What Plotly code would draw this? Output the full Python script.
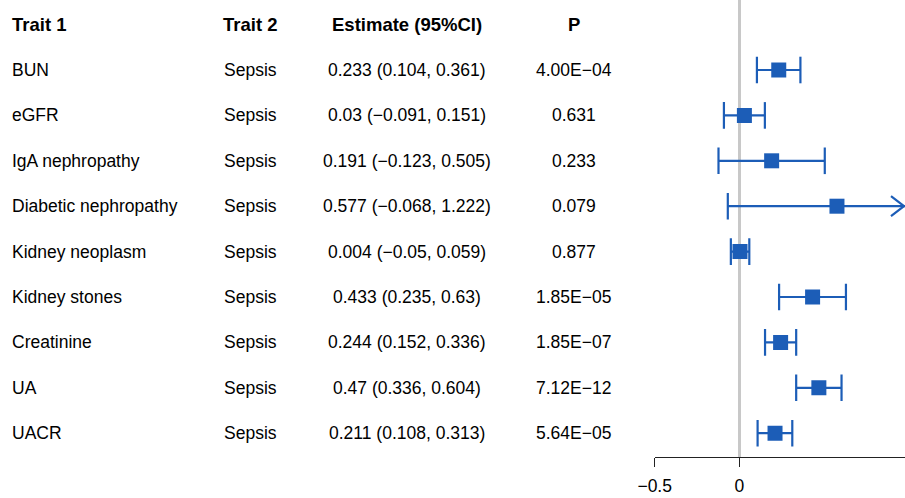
import plotly.graph_objects as go

# Forest plot data: kidney traits vs. sepsis
trait1 = ["BUN", "eGFR", "IgA nephropathy", "Diabetic nephropathy", "Kidney neoplasm",
          "Kidney stones", "Creatinine", "UA", "UACR"]
trait2 = ["Sepsis"] * 9
estimate = [0.233, 0.03, 0.191, 0.577, 0.004, 0.433, 0.244, 0.47, 0.211]
ci_low = [0.104, -0.091, -0.123, -0.068, -0.05, 0.235, 0.152, 0.336, 0.108]
ci_high = [0.361, 0.151, 0.505, 1.222, 0.059, 0.63, 0.336, 0.604, 0.313]
p_values = ["4.00E\u221204", "0.631", "0.233", "0.079", "0.877", "1.85E\u221205",
            "1.85E\u221207", "7.12E\u221212", "5.64E\u221205"]
headers = ["Trait 1", "Trait 2", "Estimate (95%CI)", "P"]
x_ticks = [-0.5, 0]

W, H = 905, 498
X_MIN, X_MAX = -0.5, 0.979
BLUE = "#1c5db7"
FONT = "Liberation Sans, Arial, sans-serif"
FS = 17.5
FS_HEAD = 18.5

rows = list(range(1, len(trait1) + 1))


def fmt(v):
    return f"{v:g}".replace("-", "\u2212")


est_text = [f"{fmt(e)} ({fmt(l)}, {fmt(h)})" for e, l, h in zip(estimate, ci_low, ci_high)]

fig = go.Figure()

# confidence interval whiskers
wx, wy = [], []
for r, l, h in zip(rows, ci_low, ci_high):
    wx += [l, h, None]
    wy += [r, r, None]
fig.add_trace(go.Scatter(x=wx, y=wy, mode="lines", line=dict(color=BLUE, width=2.2),
                         hoverinfo="skip", showlegend=False))

# end caps
fig.add_trace(go.Scatter(x=ci_low + ci_high, y=rows + rows, mode="markers",
                         marker=dict(symbol="line-ns", size=19,
                                     line=dict(color=BLUE, width=2.2)),
                         cliponaxis=True, hoverinfo="skip", showlegend=False))

# point estimates
fig.add_trace(go.Scatter(x=estimate, y=rows, mode="markers",
                         marker=dict(symbol="square", size=15, color=BLUE,
                                     line=dict(width=0)),
                         showlegend=False))

# arrows for intervals that run past the axis
for r, h in zip(rows, ci_high):
    if h > X_MAX:
        fig.add_shape(type="path", xref="x", yref="y", xsizemode="pixel", ysizemode="pixel",
                      xanchor=X_MAX, yanchor=r, path="M-14,-10 L-1,0 L-14,10",
                      line=dict(color=BLUE, width=2.2))

# table columns
col_x = [10, 250, 406.5, 573.5]
col_anchor = ["left", "center", "center", "center"]
columns = [trait1, trait2, est_text, p_values]
for cx, anc, head in zip(col_x, col_anchor, headers):
    fig.add_annotation(x=cx / W, y=0, xref="paper", yref="y", text=f"<b>{head}</b>",
                       showarrow=False, xanchor=anc, yanchor="middle",
                       font=dict(family=FONT, size=FS_HEAD, color="#000"))
for cx, anc, vals in zip(col_x, col_anchor, columns):
    for r, v in zip(rows, vals):
        fig.add_annotation(x=cx / W, y=r, xref="paper", yref="y", text=v,
                           showarrow=False, xanchor=anc, yanchor="middle",
                           font=dict(family=FONT, size=FS, color="#000"))

AXIS_Y = 456.7
ROW0, STEP = 24.6, 45.4
y_top = (0 - ROW0) / STEP
y_bot = (AXIS_Y - ROW0) / STEP

fig.update_layout(
    width=W, height=H, margin=dict(l=0, r=0, t=0, b=0, pad=0, autoexpand=False),
    paper_bgcolor="white", plot_bgcolor="white",
    xaxis=dict(domain=[654.7 / W, 1], range=[X_MIN, X_MAX], showgrid=False,
               zeroline=True, zerolinecolor="#c8c8c8", zerolinewidth=2.5,
               showline=True, linecolor="#222", linewidth=1,
               ticks="outside", ticklen=9, tickwidth=1, tickcolor="#222",
               tickvals=x_ticks, ticklabelstandoff=4,
               tickfont=dict(family=FONT, size=FS, color="#000")),
    yaxis=dict(domain=[1 - AXIS_Y / H, 1], range=[y_bot, y_top], visible=False,
               showgrid=False, zeroline=False),
)

fig.write_html("out.html")
